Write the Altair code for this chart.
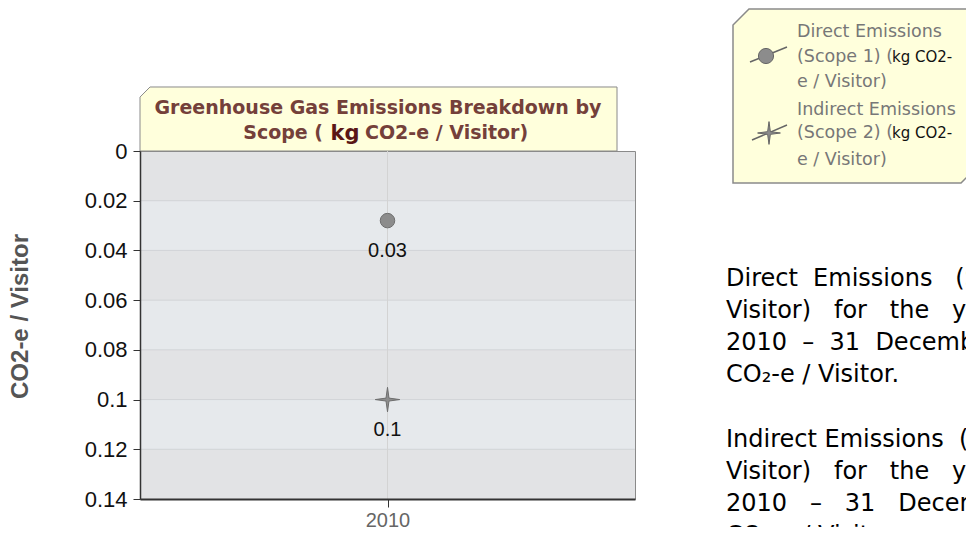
import altair as alt
import pandas as pd

# ---------------- data ----------------
years = ["2010"]
series = ["Direct Emissions (Scope 1)", "Indirect Emissions (Scope 2)"]
values = [0.028, 0.1]
value_labels = ["0.03", "0.1"]
y_ticks = [0, 0.02, 0.04, 0.06, 0.08, 0.10, 0.12, 0.14]

title_line1 = "Greenhouse Gas Emissions Breakdown by"
title_line2 = ["Scope (", "kg", "CO2-e / Visitor)"]
y_title = "CO2-e / Visitor"
legend_lines = ["Direct Emissions", "(Scope 1) (", "kg CO2-", "e / Visitor)",
                "Indirect Emissions", "(Scope 2) (", "kg CO2-", "e / Visitor)"]
NB = "\u00a0"
side_para1 = [
    f"Direct{NB*2}Emissions{NB*3}(Scope{NB*2}1){NB*2}(kg{NB*2}CO2-e",
    f"Visitor){NB*3}for{NB*3}the{NB*3}year{NB*3}1{NB*3}January",
    f"2010{NB*2}–{NB*2}31{NB*2}December{NB*2}2010{NB*2}was",
    "CO₂-e / Visitor.",
]
side_para2 = [
    f"Indirect{NB}Emissions{NB*2}(Scope{NB*2}2){NB*2}(kg",
    f"Visitor){NB*3}for{NB*3}the{NB*3}year{NB*3}1{NB*3}January",
    f"2010{NB*3}–{NB*3}31{NB*3}December{NB*3}2010",
    "CO₂-e / Visitor.",
]

df = pd.DataFrame({
    "year": years * len(series),
    "series": series,
    "value": values,
    "label": value_labels,
})
bands = pd.DataFrame({"value": y_ticks[1::2][:3], "value_end": y_ticks[2::2][:3]})
grid_df = pd.DataFrame({"value": y_ticks[1:-1]})
year_df = pd.DataFrame({"year": years})
one = alt.Data(values=[{"k": 0}])

W, H = 495, 348
STAR = "M0,-1 L0.12,-0.12 L1,0 L0.12,0.12 L0,1 L-0.12,0.12 L-1,0 L-0.12,-0.12 Z"
TITLE_BOX = "M-1,0.1342 L-1,-0.092 L-0.958,-0.1342 L1,-0.1342 L1,0.1342 Z"
LEGEND_BOX = "M-1,0.713 L-1,-0.582 L-0.869,-0.713 L1,-0.713 L1,0.582 L0.869,0.713 Z"

yscale = alt.Scale(domain=[0, 0.14], reverse=True, nice=False, zero=True)
xscale = alt.Scale(type="point")

y_axis = alt.Axis(
    values=y_ticks, format=".2~f", labelFont="Liberation Sans",
    labelFontSize=22, labelColor="#111111", tickSize=7,
    tickColor="#333333", labelPadding=6, domainColor="#333333",
    domainWidth=1.5, grid=False, zindex=1,
    title=y_title, titleFont="Liberation Sans", titleFontSize=24,
    titleFontWeight="bold", titleColor="#555555", titleX=-120,
    titleY=165, titleAngle=270, titleAlign="center",
    titleBaseline="middle")
x_axis = alt.Axis(
    title=None, labelFont="Liberation Sans", labelFontSize=20,
    labelColor="#666666", labelAngle=0, tickSize=8, tickColor="#333333",
    labelPadding=3, domainColor="#333333", domainWidth=2, grid=False,
    zindex=1)

X = alt.X("year:N", scale=xscale, axis=x_axis)
Y = alt.Y("value:Q", scale=yscale, axis=y_axis)

# ---------------- layers ----------------
title_box = alt.Chart(one).mark_point(
    shape=TITLE_BOX, filled=True, fill="#ffffdc", stroke="#8a8a8a",
    strokeWidth=1, opacity=1, size=477 ** 2
).encode(x=alt.value(238.5), y=alt.value(-32))

band_layer = alt.Chart(bands).mark_rect(color="#e6e9ec").encode(
    y=Y, y2="value_end:Q",
    x=alt.value(0), x2=alt.value(W)
)

hgrid = alt.Chart(grid_df).mark_rule(color="#d2d4d7", strokeWidth=1).encode(y=Y)

vgrid = alt.Chart(year_df).mark_rule(color="#d3d3d3", strokeWidth=1).encode(x=X)

points = alt.Chart(df).mark_point(
    filled=True, opacity=1, color="#8c8c8c", stroke="#6e6e6e", strokeWidth=1
).encode(
    x=X, y=Y,
    shape=alt.Shape("series:N", scale=alt.Scale(domain=series, range=["circle", STAR]), legend=None),
    size=alt.Size("series:O", scale=alt.Scale(domain=series, range=[210, 600]), legend=None),
)

point_labels = alt.Chart(df).mark_text(
    font="Liberation Sans", fontSize=20, color="#111111", dy=30, baseline="middle"
).encode(x=X, y=Y, text="label:N")

tfont = dict(font="DejaVu Sans", fontWeight="bold", baseline="middle")
t1 = alt.Chart(one).mark_text(fontSize=19, color="#74403a", align="center", **tfont).encode(
    x=alt.value(238), y=alt.value(-43), text=alt.value(title_line1))
t2a = alt.Chart(one).mark_text(fontSize=19, color="#74403a", align="right", **tfont).encode(
    x=alt.value(183), y=alt.value(-18), text=alt.value(title_line2[0]))
t2b = alt.Chart(one).mark_text(fontSize=21, color="#5a1616", align="center", **tfont).encode(
    x=alt.value(205), y=alt.value(-17), text=alt.value(title_line2[1]))
t2c = alt.Chart(one).mark_text(fontSize=19, color="#74403a", align="left", **tfont).encode(
    x=alt.value(225), y=alt.value(-18), text=alt.value(title_line2[2]))

legend_box = alt.Chart(one).mark_point(
    shape=LEGEND_BOX, filled=True, fill="#ffffdc", stroke="#8a8a8a",
    strokeWidth=1.5, opacity=1, size=244 ** 2
).encode(x=alt.value(715), y=alt.value(-55))

lg_rule1 = alt.Chart(one).mark_rule(color="#666666", strokeWidth=1.5).encode(
    x=alt.value(610), x2=alt.value(647), y=alt.value(-89), y2=alt.value(-104))
lg_rule2 = alt.Chart(one).mark_rule(color="#666666", strokeWidth=1.5).encode(
    x=alt.value(612), x2=alt.value(647), y=alt.value(-11), y2=alt.value(-26))
lg_sym1 = alt.Chart(one).mark_point(
    shape="circle", filled=True, opacity=1, color="#8c8c8c", stroke="#666666",
    strokeWidth=1, size=230).encode(x=alt.value(626), y=alt.value(-95))
lg_sym2 = alt.Chart(one).mark_point(
    shape=STAR, filled=True, opacity=1, color="#8c8c8c", stroke="#666666",
    strokeWidth=1, size=520).encode(x=alt.value(629), y=alt.value(-18))

lfont = dict(font="DejaVu Sans", align="left", baseline="middle")
lg_texts = []
lg_pos = [(657, -119, 17.5, "#777777"), (657, -94, 17.5, "#777777"), (752, -94, 15, "#111111"),
          (657, -69, 17.5, "#777777"), (657, -41, 17.5, "#777777"), (657, -18, 17.5, "#777777"),
          (752, -18, 15, "#111111"), (657, 9, 17.5, "#777777")]
for txt, (px, py, fs, col) in zip(legend_lines, lg_pos):
    lg_texts.append(alt.Chart(one).mark_text(fontSize=fs, color=col, **lfont).encode(
        x=alt.value(px), y=alt.value(py), text=alt.value(txt)))

sfont = dict(font="DejaVu Sans", fontSize=24, lineHeight=32, color="#000000",
             align="left", baseline="alphabetic")
side1 = alt.Chart(one).mark_text(text=side_para1, **sfont).encode(
    x=alt.value(586), y=alt.value(135))
side2 = alt.Chart(one).mark_text(text=side_para2, **sfont).encode(
    x=alt.value(586), y=alt.value(296))

chart = alt.layer(
    title_box, band_layer, hgrid, vgrid, points, point_labels,
    t1, t2a, t2b, t2c,
    legend_box, lg_rule1, lg_rule2, lg_sym1, lg_sym2, *lg_texts,
    side1, side2,
).properties(
    width=W, height=H,
    autosize=alt.AutoSizeParams(type="none"),
    padding={"left": 132, "top": 143, "right": 331, "bottom": 28},
    background="white",
).configure_view(fill="#e2e3e5", stroke="#8a8a8a", strokeWidth=1)

chart.save("out.html", embed_options={"renderer": "svg", "actions": False})
